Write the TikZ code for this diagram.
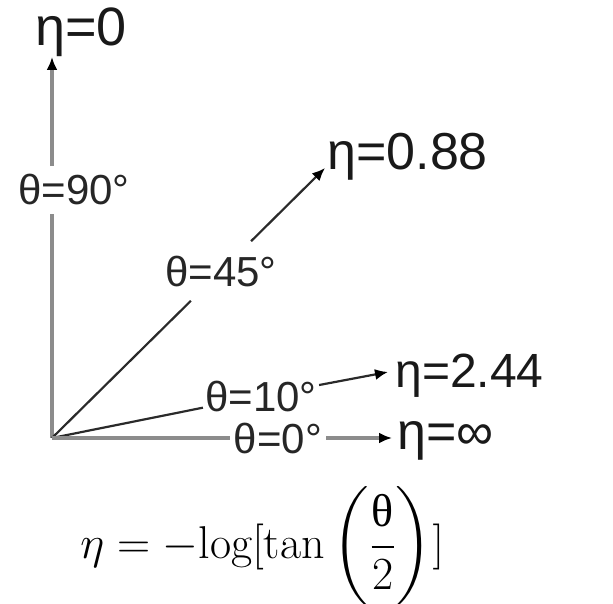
\RequirePackage{fix-cm}
\documentclass[tikz,border=0pt]{standalone}
\usepackage{amsmath}
\usepackage{fontspec}
\newfontfamily\arialfont{Liberation Sans}
\newfontfamily\serifgreek{Liberation Serif}
\usetikzlibrary{arrows.meta}
\definecolor{linegray}{HTML}{8C8C8C}
\definecolor{linedark}{HTML}{2A2A2A}
\begin{document}
\begin{tikzpicture}[x=0.5pt,y=-0.5pt,
  thetalab/.style={font=\arialfont\fontsize{21}{21}\selectfont, inner xsep=0pt, inner ysep=0pt, text=black!85},
  etalab/.style={inner sep=0pt, anchor=base west, text=black!90},
  grayline/.style={draw=linegray, line width=1.6pt},
  darkline/.style={draw=linedark, line width=1.1pt},
  tiphead/.style={-{Latex[length=6.5pt,width=5.5pt,color=black]}}]
\useasboundingbox (0,0) rectangle (613,603);

\coordinate (O) at (52,438);

% theta = 90
\node[thetalab, inner ysep=4pt] (t90) at (74,190) {θ=90°};
\coordinate (tip90) at (52,57);
\draw[grayline] (O) -- (O |- t90.south);
\draw[grayline, tiphead] (O |- t90.north) -- (tip90);
\node[etalab, font=\arialfont\fontsize{27}{27}\selectfont] (e0) at (35,46) {η=0};

% theta = 45
\node[thetalab, inner ysep=7pt] (t45) at (221,271) {θ=45°};
\coordinate (tip45) at (325,168);
\draw[darkline] (O) -- (t45);
\draw[darkline, tiphead] (t45) -- (tip45);
\node[etalab, font=\arialfont\fontsize{26}{26}\selectfont] (e088) at (327,170) {η=0.88};

% theta = 10
\node[thetalab, inner xsep=1pt, inner ysep=2pt] (t10) at (261,396) {θ=10°};
\coordinate (tip10) at (388,372);
\draw[darkline] (O) -- (t10);
\draw[darkline, tiphead] (t10) -- (tip10);
\node[etalab, font=\arialfont\fontsize{24}{24}\selectfont] (e244) at (395,387) {η=2.44};

% theta = 0
\node[thetalab, inner xsep=2pt, inner ysep=2pt] (t0) at (278,438) {θ=0°};
\coordinate (tip0) at (392,438);
\draw[grayline] (O) -- (t0);
\draw[grayline, tiphead] (t0) -- (tip0);
\node[etalab, font=\arialfont\fontsize{26}{26}\selectfont] (einf) at (397,449) {η=∞};

% formula
\node[anchor=base west, inner sep=0pt, font=\fontsize{23}{23}\selectfont] (f) at (80,558)
  {$\eta = -\mathrm{log}[\tan\left(\dfrac{\text{\serifgreek θ}}{2}\right)]$};
\end{tikzpicture}
\end{document}
